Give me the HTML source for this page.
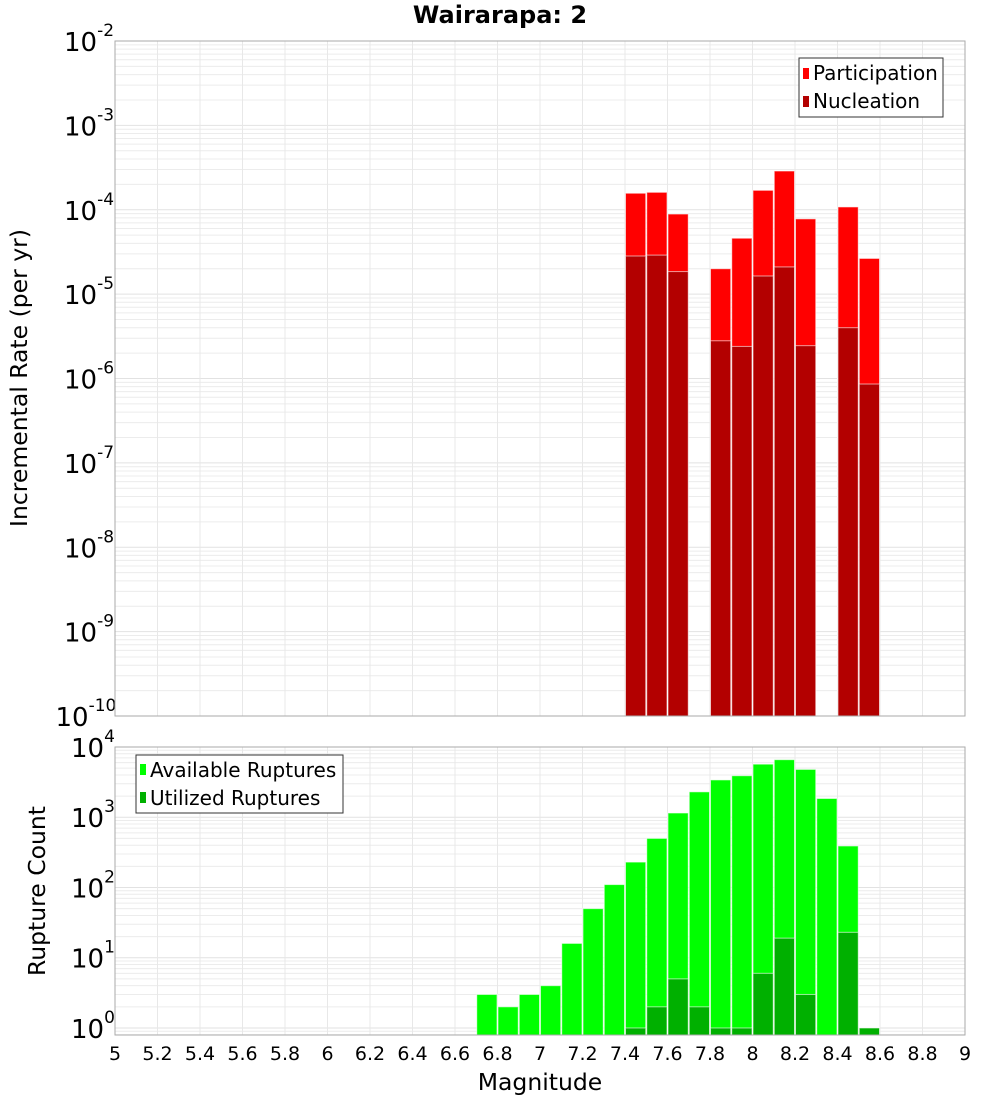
<!DOCTYPE html>
<html><head><meta charset="utf-8"><style>
body{margin:0;background:#fff;}
svg{display:block;font-family:"DejaVu Sans","Liberation Sans",sans-serif;}
</style></head><body>
<svg id="chart" width="1000" height="1100" xmlns="http://www.w3.org/2000/svg">
<text x="500" y="23" text-anchor="middle" font-size="24" font-weight="bold">Wairarapa: 2</text>
<g id="plots">
<g id="topPlot"></g>
<g id="botPlot"></g>
</g>
<text x="0" y="0" transform="translate(27,378) rotate(-90)" text-anchor="middle" font-size="23.5">Incremental Rate (per yr)</text>
<text x="0" y="0" transform="translate(45,891) rotate(-90)" text-anchor="middle" font-size="23.5">Rupture Count</text>
<text x="540" y="1090" text-anchor="middle" font-size="23.5">Magnitude</text>
<g>
<rect x="799" y="58" width="144" height="59" fill="#fff" stroke="#333" stroke-width="1"/>
<rect x="803" y="68" width="6" height="11" fill="#ff0000"/>
<text x="813" y="80" font-size="20">Participation</text>
<rect x="803" y="96" width="6" height="11" fill="#b30000"/>
<text x="813" y="108" font-size="20">Nucleation</text>
</g>
<g>
<rect x="136" y="755" width="207" height="58" fill="#fff" stroke="#333" stroke-width="1"/>
<rect x="140" y="764" width="6" height="11" fill="#00ff00"/>
<text x="150" y="777" font-size="20">Available Ruptures</text>
<rect x="140" y="792" width="6" height="11" fill="#00b000"/>
<text x="150" y="805" font-size="20">Utilized Ruptures</text>
</g>
</svg>
<script>
const mags = [6.75,6.85,6.95,7.05,7.15,7.25,7.35,7.45,7.55,7.65,7.75,7.85,7.95,8.05,8.15,8.25,8.35,8.45,8.55];
const available = [3,2,3,4,16,50,110,230,500,1150,2300,3400,3900,5700,6600,4800,1850,390,1];
const utilized = [0,0,0,0,0,0,0,1,2,5,2,1,1,6,19,3,0,23,1];
const rateMags = [7.45,7.55,7.65,7.85,7.95,8.05,8.15,8.25,8.45,8.55];
const participation = [1.57e-4,1.61e-4,8.9e-5,2.0e-5,4.6e-5,1.7e-4,2.88e-4,7.8e-5,1.08e-4,2.65e-5];
const nucleation = [2.83e-5,2.9e-5,1.85e-5,2.8e-6,2.4e-6,1.64e-5,2.1e-5,2.45e-6,4.0e-6,8.6e-7];
const xTicks = [5,5.2,5.4,5.6,5.8,6,6.2,6.4,6.6,6.8,7,7.2,7.4,7.6,7.8,8,8.2,8.4,8.6,8.8,9];
const topExps = [-2,-3,-4,-5,-6,-7,-8,-9,-10];
const botExps = [4,3,2,1,0];

const NS="http://www.w3.org/2000/svg";
const X0=115,X1=965;
const xs=m=>X0+(m-5)/4*(X1-X0);
const TT=41,TB=716,BT=747,BB=1035;
const yTop=v=>TT+(-2-Math.log10(v))/8*(TB-TT);
const bMax=4,bMin=-0.1;
const yBot=v=>BT+(bMax-Math.log10(v))/(bMax-bMin)*(BB-BT);
function mk(p,tag,a){const e=document.createElementNS(NS,tag);for(const k in a)e.setAttribute(k,a[k]);p.appendChild(e);return e;}
const gTop=document.getElementById('topPlot'),gBot=document.getElementById('botPlot');

function grid(g,y0,y1,yf,lo,hi){
  for(let e=lo;e<hi;e++)for(let k=1;k<10;k++){const y=yf(k*Math.pow(10,e));if(y<y0-0.5||y>y1+0.5)continue;
    const l=mk(g,'line',{x1:X0,x2:X1,y1:y,y2:y,stroke:k==1?'#e2e2e2':'#ececec','stroke-width':1});
    
    }
  xTicks.forEach(t=>{const x=xs(t);const l=mk(g,'line',{x1:x,x2:x,y1:y0,y2:y1,stroke:'#e8e8e8','stroke-width':1});
    
    });
}
grid(gTop,TT,TB,yTop,-10,-2);
grid(gBot,BT,BB,yBot,-1,4);
const bw=(X1-X0)/40;
function bar(g,m,y,yb,fill,name){const x=xs(m)-bw/2;
  const r=mk(g,'rect',{x:x+0.5,y:y,width:bw-1,height:Math.max(0,yb-y),fill:fill,stroke:'rgba(255,255,255,0.6)','stroke-width':1});
  
  }
rateMags.forEach((m,i)=>bar(gTop,m,yTop(participation[i]),TB,'#ff0000','participation-bar'));
rateMags.forEach((m,i)=>bar(gTop,m,yTop(nucleation[i]),TB,'#b30000','nucleation-bar'));
mags.forEach((m,i)=>{if(available[i]>0)bar(gBot,m,yBot(available[i]),BB,'#00ff00','available-bar');});
mags.forEach((m,i)=>{if(utilized[i]>0)bar(gBot,m,yBot(utilized[i]),BB,'#00b000','utilized-bar');});
[[TT,TB],[BT,BB]].forEach(([a,b])=>{const r=mk(document.getElementById('plots'),'rect',{x:X0,y:a,width:X1-X0,height:b-a,fill:'none',stroke:'#aaa','stroke-width':1});
  
  });
function ylab(g,y,e){const t=mk(g,'text',{x:0,y:0,'font-size':26});
  
  
  t.innerHTML='10<tspan font-size="17" dy="-15">'+e+'</tspan>';
  const w=e<0?(String(e).length*8.5):10; t.setAttribute('x',114-w-33); t.setAttribute('y',y+10);}
topExps.forEach(e=>ylab(gTop,yTop(Math.pow(10,e)),e));
botExps.forEach(e=>ylab(gBot,yBot(Math.pow(10,e)),e));
xTicks.forEach(t=>{const e=mk(gBot,'text',{x:xs(t),y:1060,'text-anchor':'middle','font-size':19});
  
  
  e.textContent=String(t);});
</script>
</body></html>
